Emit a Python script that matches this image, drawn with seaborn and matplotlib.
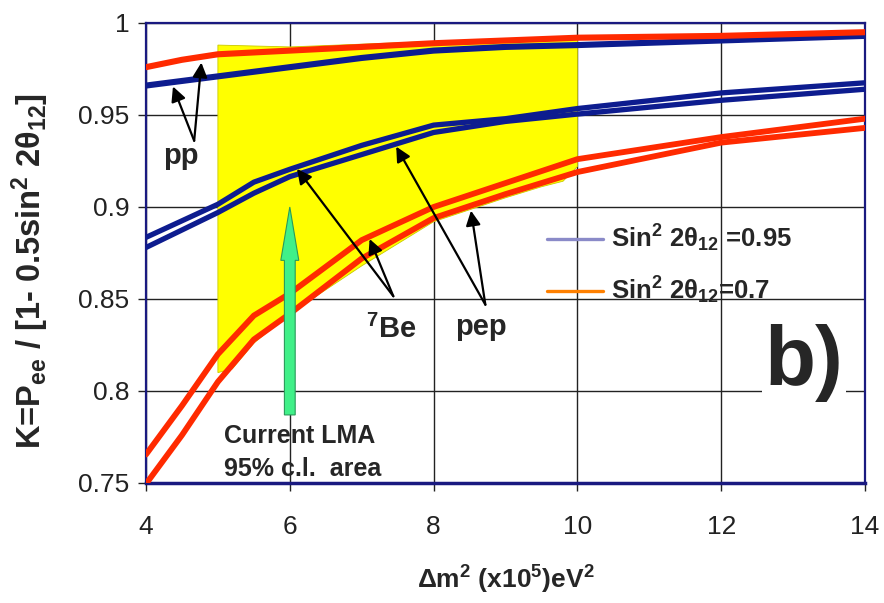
import numpy as np
import pandas as pd
import seaborn as sns
import matplotlib
matplotlib.use("Agg")
import matplotlib.pyplot as plt
from matplotlib.lines import Line2D
from matplotlib.patches import Polygon

# ---------------- data ----------------
dm2 = [4, 4.5, 5, 5.5, 6, 7, 8, 9, 10, 12, 14]

pp_095 = [0.966, 0.9685, 0.971, 0.9735, 0.976, 0.981, 0.985, 0.987, 0.988, 0.9905, 0.993]
pp_07 = [0.976, 0.980, 0.983, 0.984, 0.985, 0.987, 0.989, 0.9905, 0.992, 0.993, 0.995]
be7_095 = [0.8835, 0.8925, 0.9015, 0.9135, 0.9205, 0.9335, 0.9445, 0.948, 0.9535, 0.962, 0.9675]
pep_095 = [0.878, 0.8875, 0.897, 0.9075, 0.9165, 0.9285, 0.9405, 0.9465, 0.9505, 0.958, 0.964]
be7_07 = [0.7655, 0.792, 0.820, 0.841, 0.853, 0.882, 0.900, 0.913, 0.926, 0.938, 0.948]
pep_07 = [0.7495, 0.776, 0.805, 0.828, 0.842, 0.872, 0.894, 0.907, 0.919, 0.935, 0.943]

lma_x = [5.0, 5.0, 6.0, 8.0, 10.0, 10.0, 9.8, 9.5, 9.0, 8.0, 7.0, 6.0, 5.5, 5.2]
lma_y = [0.810, 0.988, 0.987, 0.990, 0.992, 0.922, 0.914, 0.911, 0.905, 0.892, 0.868, 0.842, 0.826, 0.812]

x_ticks = [4, 6, 8, 10, 12, 14]
y_ticks = [0.75, 0.8, 0.85, 0.9, 0.95, 1.0]
y_ticklabels = ["0.75", "0.8", "0.85", "0.9", "0.95", "1"]

legend_labels = [r"Sin$^{\mathbf{2}}$ 2θ$_{\mathbf{12}}$ =0.95",
                 r"Sin$^{\mathbf{2}}$ 2θ$_{\mathbf{12}}$=0.7"]

# ---------------- style ----------------
sns.set_theme(style="white")
plt.rcParams["font.family"] = ["Liberation Sans", "DejaVu Sans"]
plt.rcParams["mathtext.fontset"] = "custom"
plt.rcParams["mathtext.rm"] = "Liberation Sans"
plt.rcParams["mathtext.it"] = "Liberation Sans:italic"
plt.rcParams["mathtext.bf"] = "Liberation Sans:bold"

RED = "#ff2a00"
NAVY = "#0d1c8f"

fig = plt.figure(figsize=(8.84, 6.03), dpi=100)
ax = fig.add_axes([146 / 884, 1 - 483 / 603, 719 / 884, 460 / 603])

df = pd.DataFrame({"x": dm2 * 6,
                   "K": pp_095 + pp_07 + be7_095 + pep_095 + be7_07 + pep_07,
                   "curve": (["pp_095"] * len(dm2) + ["pp_07"] * len(dm2) +
                             ["be7_095"] * len(dm2) + ["pep_095"] * len(dm2) +
                             ["be7_07"] * len(dm2) + ["pep_07"] * len(dm2))})

# yellow LMA area
ax.add_patch(Polygon(np.column_stack([lma_x, lma_y]), closed=True,
                     facecolor="#ffff00", edgecolor="#c8c800", lw=0.6, zorder=1.5))

colors = {"pp_095": NAVY, "pp_07": RED, "be7_095": NAVY, "pep_095": NAVY,
          "be7_07": RED, "pep_07": RED}
widths = {"pp_095": 4.4, "pp_07": 4.4, "be7_095": 3.8, "pep_095": 3.8,
          "be7_07": 4.2, "pep_07": 4.2}
for name, sub in df.groupby("curve", sort=False):
    sns.lineplot(data=sub, x="x", y="K", ax=ax, color=colors[name], lw=widths[name],
                 estimator=None, legend=False, zorder=3)

ax.set_xlim(4, 14)
ax.set_ylim(0.75, 1.0)
ax.set_xticks(x_ticks)
ax.set_xticklabels([str(t) for t in x_ticks])
ax.set_yticks(y_ticks)
ax.set_yticklabels(y_ticklabels)
ax.grid(True, color="#222222", lw=1.0)
ax.set_axisbelow(True)
ax.tick_params(axis="both", which="major", labelsize=19, colors="#222222",
               length=6, width=1, direction="out", bottom=True, left=True)
ax.tick_params(axis="x", pad=17)
ax.tick_params(axis="y", pad=6)
for s in ax.spines.values():
    s.set_color("#1a1a80")
    s.set_linewidth(1.6)
ax.spines["bottom"].set_linewidth(2.5)

ax.set_xlabel(r"Δm$^{\mathbf{2}}$ (x10$^{\mathbf{5}}$)eV$^{\mathbf{2}}$",
              fontsize=19, fontweight="bold", labelpad=18)
ax.set_ylabel(r"K=P$_{\mathbf{ee}}$ / [1- 0.5sin$^{\mathbf{2}}$ 2θ$_{\mathbf{12}}$]",
              fontsize=23.5, fontweight="bold")
ax.yaxis.set_label_coords(-0.132, 0.462)

# green arrow
ax.arrow(6.0, 0.787, 0, 0.113 - 0.029, width=0.15, head_width=0.25,
         head_length=0.029, length_includes_head=False,
         facecolor="#40f088", edgecolor="#2a9a5a", lw=0.8, zorder=4)

# black annotation arrows
aprops = dict(arrowstyle="-|>", color="black", lw=1.6, mutation_scale=22,
              shrinkA=0, shrinkB=0)
for start, tip in [((4.67, 0.936), (4.375, 0.9655)), ((4.67, 0.936), (4.77, 0.9785)),
                   ((7.44, 0.8515), (7.11, 0.8826)), ((7.44, 0.8515), (6.10, 0.9207)),
                   ((8.72, 0.8469), (8.52, 0.898)), ((8.72, 0.8469), (7.48, 0.9328))]:
    ax.annotate("", xy=tip, xytext=start, arrowprops=aprops, zorder=5)

ax.text(4.49, 0.9235, "pp", fontsize=21, fontweight="bold", ha="center", va="baseline")
ax.text(7.41, 0.829, r"$^{\mathbf{7}}$Be", fontsize=21, fontweight="bold", ha="center", va="baseline")
ax.text(8.66, 0.8304, "pep", fontsize=21, fontweight="bold", ha="center", va="baseline")
ax.text(5.08, 0.7717, "Current LMA", fontsize=18, fontweight="bold", ha="left", va="baseline")
ax.text(5.08, 0.7538, "95% c.l.  area", fontsize=18, fontweight="bold", ha="left", va="baseline")
ax.text(13.15, 0.815, "b)", fontsize=60, fontweight="bold", ha="center", va="center",
        bbox=dict(facecolor="white", edgecolor="none", pad=2), zorder=6)

handles = [Line2D([], [], color="#8a8ac8", lw=2.4), Line2D([], [], color="#ff8000", lw=2.4)]
ax.legend(handles, legend_labels, loc="upper left", bbox_to_anchor=(0.543, 0.588),
          frameon=False, prop={"size": 18.5, "weight": "bold"}, handlelength=2.2,
          handletextpad=0.3, labelspacing=0.8, borderaxespad=0)

fig.savefig("out.png", dpi=100)
